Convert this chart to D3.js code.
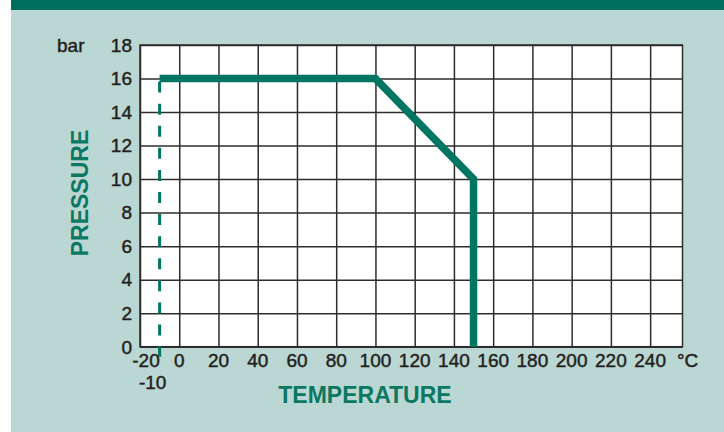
<!DOCTYPE html>
<html><head><meta charset="utf-8">
<script src="https://cdn.jsdelivr.net/npm/d3@7"></script>
<style>html,body{margin:0;padding:0;background:#fff;} svg{display:block}</style>
</head><body><svg id="c" width="724" height="432"></svg>
<script>
// ---- data ----
const xTicks = [-20, 0, 20, 40, 60, 80, 100, 120, 140, 160, 180, 200, 220, 240];
const yTicks = [0, 2, 4, 6, 8, 10, 12, 14, 16, 18];
const xDomain = [-20, 256.5];
const yDomain = [0, 18];
const extraXLabels = [-10];
const ratingTemp = [-10, 100, 150, 150];
const ratingPress = [16, 16, 10, 0];
const minTemp = [-10, -10];
const minPress = [16, -0.6];
const xUnit = "°C";
const yUnit = "bar";
const xTitle = "TEMPERATURE";
const yTitle = "PRESSURE";

// ---- drawing ----
const svg = d3.select("#c");
const green = "#007561";
const font = "'Liberation Sans', Arial, Helvetica, sans-serif";

svg.append("rect").attr("x", 0).attr("y", 0).attr("width", 724).attr("height", 432).attr("fill", "#ffffff");
svg.append("rect").attr("x", 11).attr("y", 0).attr("width", 713).attr("height", 432).attr("fill", "#bbd7d3");
svg.append("rect").attr("x", 11).attr("y", 0).attr("width", 713).attr("height", 10).attr("fill", "#006f5e");

const x = d3.scaleLinear().domain(xDomain).range([140, 682.5]);
const y = d3.scaleLinear().domain(yDomain).range([346.7, 45]);

const plot = svg.append("g");
plot.append("rect")
  .attr("x", x(xDomain[0])).attr("y", y(yDomain[1]))
  .attr("width", x(xDomain[1]) - x(xDomain[0]))
  .attr("height", y(yDomain[0]) - y(yDomain[1]))
  .attr("fill", "#ffffff");

// grid via axes
const gx = plot.append("g").attr("transform", `translate(0,${y(yDomain[0])})`)
  .call(d3.axisBottom(x).tickValues(xTicks).tickSize(-(y(yDomain[0]) - y(yDomain[1]))).tickFormat(""));
const gy = plot.append("g").attr("transform", `translate(${x(xDomain[0])},0)`)
  .call(d3.axisLeft(y).tickValues(yTicks).tickSize(-(x(xDomain[1]) - x(xDomain[0]))).tickFormat(""));
[gx, gy].forEach(g => {
  g.select(".domain").remove();
  g.selectAll(".tick line").attr("stroke", "#2d2d2d").attr("stroke-width", 1.5);
});
plot.append("rect")
  .attr("x", x(xDomain[0])).attr("y", y(yDomain[1]))
  .attr("width", x(xDomain[1]) - x(xDomain[0]))
  .attr("height", y(yDomain[0]) - y(yDomain[1]))
  .attr("fill", "none").attr("stroke", "#2d2d2d").attr("stroke-width", 1.5);

// min temperature dashed line
const line = d3.line().x(d => x(d[0])).y(d => y(d[1]));
svg.append("path")
  .attr("d", line(minTemp.map((t, i) => [t, minPress[i]])))
  .attr("fill", "none").attr("stroke", green).attr("stroke-width", 3)
  .attr("stroke-dasharray", "11,11.08").attr("stroke-dashoffset", 19);

// rating curve
svg.append("path")
  .attr("d", line(ratingTemp.map((t, i) => [t, ratingPress[i]])))
  .attr("fill", "none").attr("stroke", green).attr("stroke-width", 7.5)
  .attr("stroke-linejoin", "miter").attr("stroke-linecap", "butt");

// tick labels
const txt = svg.append("g").attr("font-family", font).attr("font-size", 19).attr("fill", "#231f20")
  .attr("stroke", "#231f20").attr("stroke-width", 0.45);
txt.selectAll("text.xl").data(xTicks).join("text").attr("class", "xl")
  .attr("x", d => x(d) + (d < 0 ? 6 : 0)).attr("y", 367).attr("text-anchor", "middle").text(d => d);
txt.selectAll("text.xe").data(extraXLabels).join("text").attr("class", "xe")
  .attr("x", d => x(d) - 7).attr("y", 389).attr("text-anchor", "middle").text(d => d);
txt.selectAll("text.yl").data(yTicks).join("text").attr("class", "yl")
  .attr("x", 132).attr("y", d => y(d) + 6.8).attr("text-anchor", "end").text(d => d);
txt.append("text").attr("x", 57).attr("y", y(yDomain[1]) + 6.8).text(yUnit);
txt.append("text").attr("x", 677).attr("y", 367).text(xUnit);

// titles
svg.append("text").attr("font-family", font).attr("font-weight", "bold").attr("font-size", 23)
  .attr("fill", "#0b7862").attr("text-anchor", "middle")
  .attr("x", 365).attr("y", 403).text(xTitle);
svg.append("text").attr("font-family", font).attr("font-weight", "bold").attr("font-size", 23)
  .attr("fill", "#0b7862").attr("text-anchor", "middle")
  .attr("transform", "translate(87.5,193) rotate(-90)").text(yTitle);
</script>
</body></html>
